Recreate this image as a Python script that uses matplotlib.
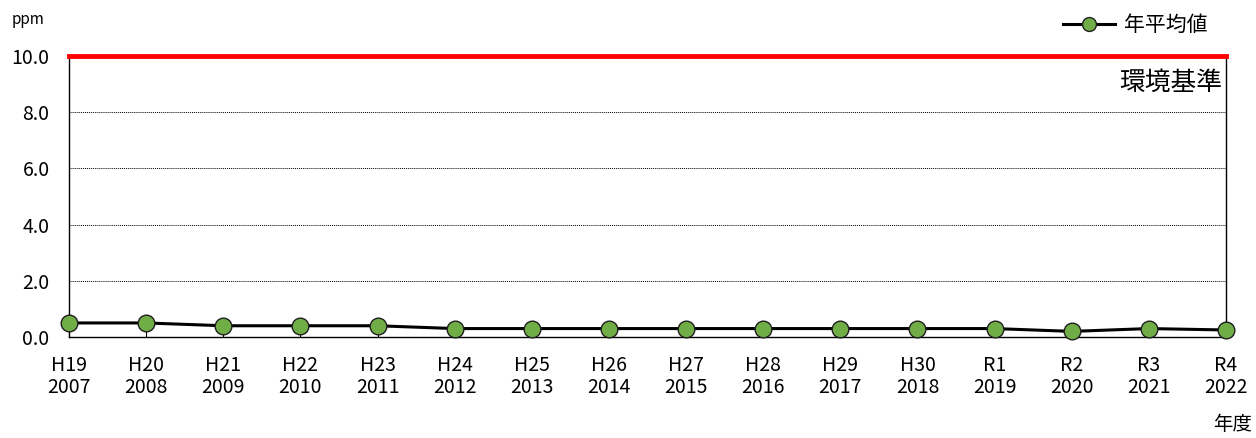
import matplotlib
matplotlib.use("Agg")
import matplotlib.pyplot as plt
from matplotlib.lines import Line2D

plt.rcParams['font.family'] = ['Noto Sans CJK JP', 'DejaVu Sans']

# fiscal years (Japanese era / western)
era_labels = ["H19", "H20", "H21", "H22", "H23", "H24", "H25", "H26",
              "H27", "H28", "H29", "H30", "R1", "R2", "R3", "R4"]
years = ["2007", "2008", "2009", "2010", "2011", "2012", "2013", "2014",
         "2015", "2016", "2017", "2018", "2019", "2020", "2021", "2022"]
annual_mean = [0.5, 0.5, 0.4, 0.4, 0.4, 0.3, 0.3, 0.3,
               0.3, 0.3, 0.3, 0.3, 0.3, 0.2, 0.3, 0.25]
standard = 10.0

fig = plt.figure(figsize=(12.56, 4.38), dpi=100)
ax = fig.add_axes([69/1256, 1-337/438, (1226-69)/1256, (337-56)/438])

x = list(range(len(years)))
ax.plot(x, annual_mean, color="black", lw=2.2, marker="o", ms=12,
        mfc="#70ad47", mec="#1f1f1f", mew=1.0, clip_on=False, zorder=4)

# environmental standard line
ax.axhline(standard, color="#ff0000", lw=3.5, zorder=5, clip_on=False)
ax.text(0.9965, 0.904, "環境基準", transform=ax.transAxes, ha="right",
        va="center", fontsize=18.5)

ax.set_xlim(0, len(x) - 1)
ax.set_ylim(0, 10)
ax.set_yticks([0, 2, 4, 6, 8, 10])
ax.set_yticklabels([f"{v:.1f}" for v in [0, 2, 4, 6, 8, 10]], fontsize=14)
ax.set_xticks(x)
ax.set_xticklabels([f"{a}\n{b}" for a, b in zip(era_labels, years)],
                   fontsize=14, linespacing=1.05)
ax.tick_params(axis="y", length=0, pad=14)
ax.tick_params(axis="x", direction="in", length=4, pad=13)

for v in [2, 4, 6, 8]:
    ax.axhline(v, color="black", lw=0.7, ls=(0, (1, 1)), zorder=1)

for side in ["left", "right", "bottom"]:
    ax.spines[side].set_linewidth(1.0)
ax.spines["top"].set_visible(False)

fig.text(12/1256, 1-20/438, "ppm", fontsize=11, va="center")
fig.text(1252/1256, 1-424/438, "年度", fontsize=14, ha="right", va="center")

handle = Line2D([], [], color="black", lw=2.2, marker="o", ms=10,
                mfc="#70ad47", mec="#1f1f1f", mew=1.0)
fig.legend([handle], ["年平均値"], loc="center right",
           bbox_to_anchor=(1216/1256, 1-25/438), frameon=False, fontsize=15,
           handlelength=2.5, handletextpad=0.45, borderaxespad=0)

fig.savefig("out.png", dpi=100)
